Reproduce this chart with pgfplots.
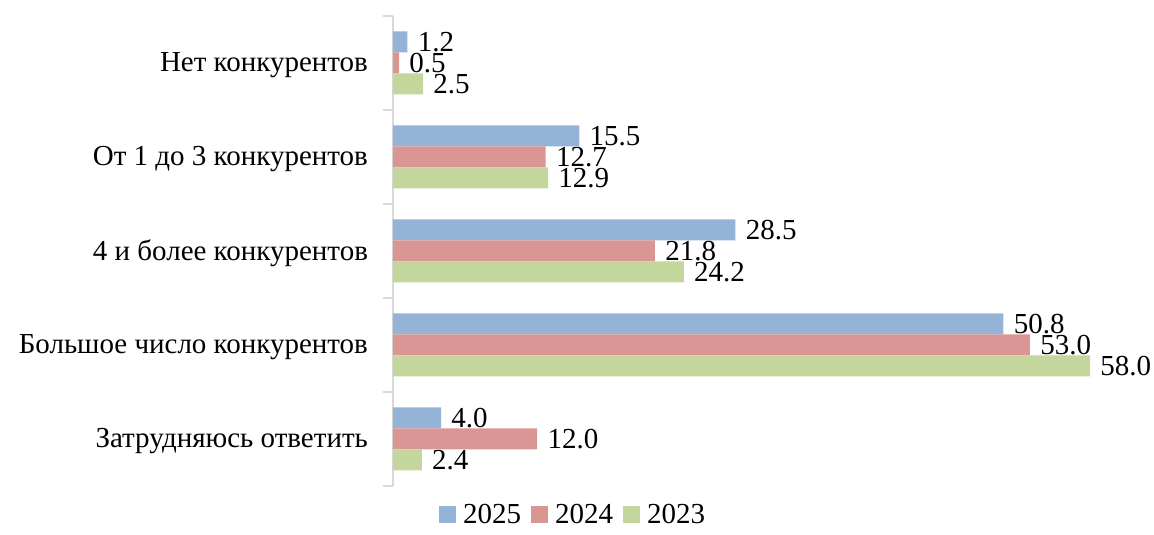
\documentclass[border=0pt]{standalone}
\usepackage{pgfplots}
\pgfplotsset{compat=1.18}
\usepackage{fontspec}
\setmainfont{Liberation Serif}
\definecolor{c25}{HTML}{95B3D7}
\definecolor{c24}{HTML}{D99694}
\definecolor{c23}{HTML}{C3D69B}
\definecolor{axgray}{HTML}{D9D9D9}

% y = 4 top category ... 0 bottom
\pgfplotstableread{
y v25 v24 v23
4 1.2 0.5 2.5
3 15.5 12.7 12.9
2 28.5 21.8 24.2
1 50.8 53.0 58.0
0 4.0 12.0 2.4
}\data

\begin{document}
\begin{tikzpicture}
\begin{axis}[
    name=ax,
    scale only axis,
    width=348.5pt, height=235pt,
    xmin=0, xmax=58,
    ymin=-0.5, ymax=4.5,
    axis x line=none,
    axis y line*=left,
    y axis line style={axgray, line width=1pt},
    ytick={0,1,2,3,4},
    yticklabels={Затрудняюсь ответить, Большое число конкурентов, 4 и более конкурентов, От 1 до 3 конкурентов, Нет конкурентов},
    major tick length=0pt,
    extra y ticks={-0.5,0.5,1.5,2.5,3.5,4.5},
    extra y tick labels={},
    extra y tick style={major tick length=5pt, tick align=outside, tick style={axgray, line width=1pt}},
    yticklabel style={xshift=-9pt, yshift=-1pt},
    tick label style={font=\fontsize{14.5}{17}\selectfont},
    xbar, bar width=10.5pt,
    clip=false,
    /pgf/number format/assume math mode=true,
    nodes near coords={\pgfmathprintnumber[fixed,fixed zerofill,precision=1]{\pgfplotspointmeta}},
    every node near coord/.append style={font=\fontsize{14.5}{17}\selectfont, anchor=west, inner xsep=0pt, xshift=5pt, black},
    legend style={draw=none, legend columns=-1, at={(0.26,-0.0617)}, anchor=center,
        font=\fontsize{14.5}{17}\selectfont,
        /tikz/every even column/.append style={column sep=3pt}},
    legend image code/.code={\fill[#1] (0pt,-4.25pt) rectangle (8.5pt,4.25pt); \path (10pt,0);},
]
\addplot[fill=c25, draw=none, bar shift=10.5pt] table[x=v25, y=y] {\data};
\addlegendentry{2025}
\addplot[fill=c24, draw=none, bar shift=0pt] table[x=v24, y=y] {\data};
\addlegendentry{2024}
\addplot[fill=c23, draw=none, bar shift=-10.5pt] table[x=v23, y=y] {\data};
\addlegendentry{2023}
\end{axis}
\path ([xshift=-196.5pt,yshift=-19.5pt]ax.south west) rectangle ++(577pt,262.5pt);
\end{tikzpicture}
\end{document}
